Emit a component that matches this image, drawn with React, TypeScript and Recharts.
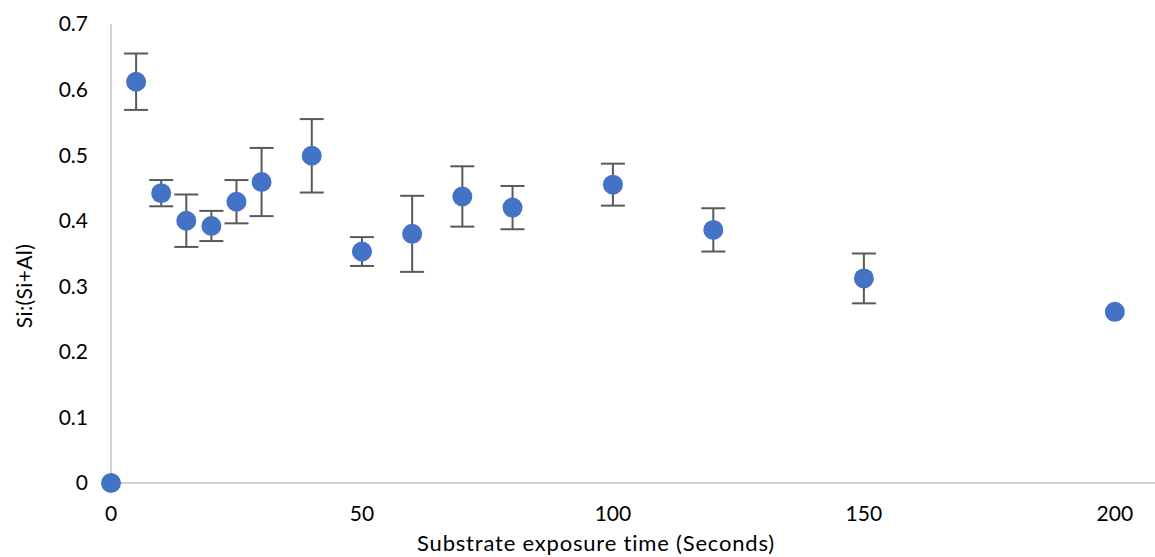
import { ScatterChart, Scatter, XAxis, YAxis, ErrorBar, Label } from 'recharts'

const times = [0, 5, 10, 15, 20, 25, 30, 40, 50, 60, 70, 80, 100, 120, 150, 200]
const ratios = [0, 0.612, 0.442, 0.4, 0.392, 0.429, 0.459, 0.499, 0.353, 0.38, 0.437, 0.42, 0.455, 0.386, 0.312, 0.261]
const errors = [null, 0.043, 0.02, 0.04, 0.023, 0.033, 0.052, 0.056, 0.022, 0.058, 0.046, 0.033, 0.032, 0.033, 0.038, null]
const xTicks = [0, 50, 100, 150, 200]
const yTicks = [0, 0.1, 0.2, 0.3, 0.4, 0.5, 0.6, 0.7]

const data = times.map((t, i) => ({ time: t, ratio: ratios[i], err: errors[i] }))

const font = 'Lato, "Open Sans", sans-serif'
const axisColor = '#bfbfbf'

export default function App() {
  return (
    <div style={{ position: 'absolute', left: 0, top: 0, fontFamily: font }}>
      <ScatterChart width={1155} height={557} margin={{ top: 24, right: 0, left: 0, bottom: 0 }}>
        <XAxis
          type="number"
          dataKey="time"
          domain={[0, 208]}
          ticks={xTicks}
          height={74}
          tickSize={0}
          tickMargin={23}
          tickLine={false}
          axisLine={{ stroke: axisColor, strokeWidth: 1.5 }}
          tick={{ fill: '#000', fontSize: 21, fontFamily: font }}
        >
          <Label
            content={() => (
              <text
                x={596}
                y={542}
                textAnchor="middle"
                dominantBaseline="central"
                fill="#000"
                fontSize={22}
                letterSpacing={0.8}
                fontFamily={font}
              >
                Substrate exposure time (Seconds)
              </text>
            )}
          />
        </XAxis>
        <YAxis
          type="number"
          dataKey="ratio"
          domain={[0, 0.7]}
          ticks={yTicks}
          width={111}
          tickSize={0}
          tickMargin={23}
          tickLine={false}
          axisLine={{ stroke: axisColor, strokeWidth: 1.5 }}
          tick={{ fill: '#000', fontSize: 21, fontFamily: font }}
        >
          <Label
            content={() => (
              <text
                x={23}
                y={286}
                transform="rotate(-90 23 286)"
                textAnchor="middle"
                dominantBaseline="central"
                fill="#000"
                fontSize={21}
                letterSpacing={0.4}
                fontFamily={font}
              >
                Si:(Si+Al)
              </text>
            )}
          />
        </YAxis>
        <Scatter
          data={data}
          isAnimationActive={false}
          shape={(p: any) => <circle cx={p.cx} cy={p.cy} r={10} fill="#4472C4" />}
        >
          <ErrorBar dataKey="err" direction="y" width={12} stroke="#595959" strokeWidth={2} />
        </Scatter>
      </ScatterChart>
    </div>
  )
}
